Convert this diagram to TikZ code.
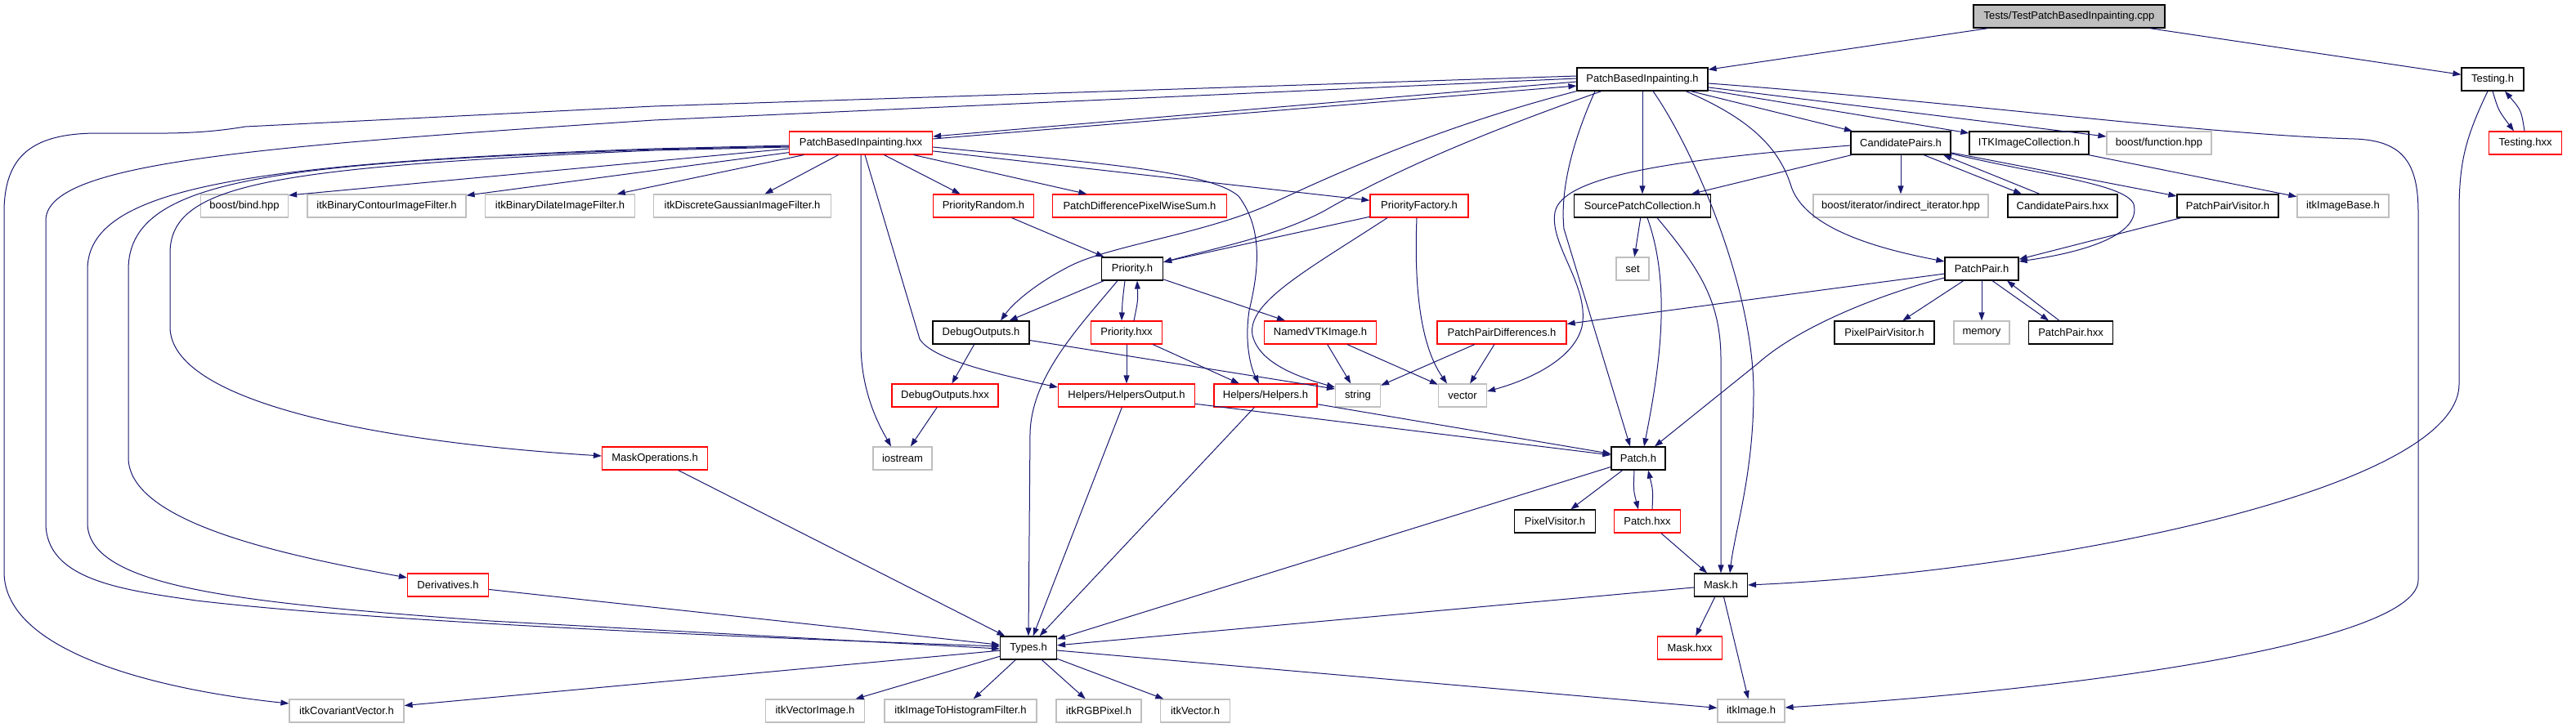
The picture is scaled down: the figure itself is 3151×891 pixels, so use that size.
\documentclass[tikz,border=0pt]{standalone}
\usepackage{fontspec}
\setmainfont{Liberation Sans}
\usetikzlibrary{arrows.meta,calc}
\definecolor{edgec}{HTML}{191970}
\definecolor{lgray}{HTML}{BFBFBF}
\definecolor{rootfill}{HTML}{BFBFBF}
\tikzset{
  box/.style={draw, line width=1.2pt, minimum height=28pt, minimum width=#1, inner sep=0pt, font=\fontsize{13}{15}\selectfont},
  bk/.style={box=#1, draw=black},
  rb/.style={box=#1, draw=red},
  gb/.style={box=#1, draw=lgray},
  rootb/.style={box=#1, draw=black, fill=rootfill},
  e/.style={draw=edgec, line width=1pt, -{Triangle[length=10pt,width=7pt]}}
}
\begin{document}
\begin{tikzpicture}[x=1pt,y=-1pt]
\fill[white] (0,0) rectangle (3151,891);
\useasboundingbox (0,0) rectangle (3151,891);
% nodes
\node[rootb=234] (root) at (2531,20) {Tests/TestPatchBasedInpainting.cpp};
\node[bk=160] (pbih) at (2009,97) {PatchBasedInpainting.h};
\node[bk=76] (testingh) at (3049,97) {Testing.h};
\node[rb=175] (pbihxx) at (1053,175) {PatchBasedInpainting.hxx};
\node[bk=122] (candh) at (2325,175) {CandidatePairs.h};
\node[bk=146] (itkcoll) at (2482,175) {ITKImageCollection.h};
\node[gb=128] (boostfunc) at (2641,175) {boost/function.hpp};
\node[rb=89] (testinghxx) at (3089,175) {Testing.hxx};
\node[gb=107] (boostbind) at (299,252) {boost/bind.hpp};
\node[gb=194] (itkbc) at (473,252) {itkBinaryContourImageFilter.h};
\node[gb=183] (itkbd) at (685,252) {itkBinaryDilateImageFilter.h};
\node[gb=217] (itkdg) at (908,252) {itkDiscreteGaussianImageFilter.h};
\node[rb=123] (prand) at (1203,252) {PriorityRandom.h};
\node[rb=213] (pdiff) at (1394,252) {PatchDifferencePixelWiseSum.h};
\node[rb=120] (pfact) at (1736,252) {PriorityFactory.h};
\node[bk=167] (spc) at (2009,252) {SourcePatchCollection.h};
\node[gb=214] (boostiter) at (2325,252) {boost/iterator/indirect\_iterator.hpp};
\node[bk=134] (candhxx) at (2523,252) {CandidatePairs.hxx};
\node[bk=124] (ppvis) at (2725,252) {PatchPairVisitor.h};
\node[gb=112] (itkib) at (2866,252) {itkImageBase.h};
\node[bk=75] (prio) at (1385,329) {Priority.h};
\node[gb=40] (set) at (1997,329) {set};
\node[bk=90] (pp) at (2424,329) {PatchPair.h};
\node[bk=118] (dbg) at (1200,407) {DebugOutputs.h};
\node[rb=87] (priohxx) at (1378,407) {Priority.hxx};
\node[rb=137] (nvtk) at (1615,407) {NamedVTKImage.h};
\node[rb=158] (ppdiff) at (1837,407) {PatchPairDifferences.h};
\node[bk=122] (pxpv) at (2305,407) {PixelPairVisitor.h};
\node[gb=68] (memory) at (2424,407) {memory};
\node[bk=103] (pphxx) at (2533,407) {PatchPair.hxx};
\node[rb=130] (dbghxx) at (1156,484) {DebugOutputs.hxx};
\node[rb=167] (hout) at (1378,484) {Helpers/HelpersOutput.h};
\node[rb=126] (helpers) at (1548,484) {Helpers/Helpers.h};
\node[gb=55] (string) at (1661,484) {string};
\node[gb=59] (vector) at (1789,484) {vector};
\node[rb=129] (maskops) at (801,561) {MaskOperations.h};
\node[gb=72] (iostream) at (1104,561) {iostream};
\node[bk=66] (patch) at (2004,561) {Patch.h};
\node[bk=99] (pxvis) at (1902,638) {PixelVisitor.h};
\node[rb=81] (patchhxx) at (2015,638) {Patch.hxx};
\node[rb=99] (deriv) at (548,716) {Derivatives.h};
\node[bk=65] (mask) at (2105,716) {Mask.h};
\node[bk=69] (types) at (1258,793) {Types.h};
\node[rb=79] (maskhxx) at (2067,793) {Mask.hxx};
\node[gb=140] (itkcov) at (424,870) {itkCovariantVector.h};
\node[gb=121] (itkvi) at (997,870) {itkVectorImage.h};
\node[gb=186] (itkhist) at (1175,870) {itkImageToHistogramFilter.h};
\node[gb=104] (itkrgb) at (1344,870) {itkRGBPixel.h};
\node[gb=85] (itkvec) at (1462,870) {itkVector.h};
\node[gb=82] (itkimg) at (2142,870) {itkImage.h};
% root edges
\draw[e] (root) -- (pbih);
\draw[e] (root) -- (testingh);
% Testing
\draw[e] (testingh.south) .. controls (3056,135) .. ($(testinghxx.north)+(-14,0)$);
\draw[e] ($(testinghxx.north)+(-1,0)$) .. controls (3084,135) .. ($(testingh.south)+(15,0)$);
\draw[e] ($(testingh.south)+(-6,0)$) .. controls (3015,170) and (3008,200) .. (3008,260) -- (3008,470) .. controls (3008,600) and (2500,700) .. (mask.east);
% PatchBasedInpainting.h <-> .hxx
\draw[e] ($(pbih.west)+(0,3)$) -- ($(pbihxx.east)+(0,-8)$);
\draw[e] ($(pbihxx.east)+(0,-5)$) -- ($(pbih.west)+(0,8)$);
% long left curves from pbih
\draw[e] ($(pbih.west)+(0,-4)$) -- (800,130) -- (300,155) .. controls (240,165) and (200,163) .. (120,163) .. controls (40,163) and (5,190) .. (5,260) -- (5,700) .. controls (5,800) and (200,845) .. ($(itkcov.west)+(0,-9)$);
\draw[e] ($(pbih.west)+(0,-1)$) -- (800,147) .. controls (300,180) and (56,200) .. (56,270) -- (56,640) .. controls (56,710) and (150,722) .. (240,735) .. controls (450,760) and (900,780) .. ($(types.west)+(0,-2)$);
% long left curves from pbihxx
\draw[e] ($(pbihxx.west)+(0,3)$) -- (800,182) .. controls (300,200) and (107,230) .. (107,330) -- (107,640) .. controls (107,720) and (300,738) .. (600,760) -- ($(types.west)+(0,1)$);
\draw[e] ($(pbihxx.west)+(0,4)$) -- (800,183) .. controls (330,200) and (157,220) .. (157,330) -- (157,560) .. controls (157,640) and (350,680) .. ($(deriv.west)+(0,-9)$);
\draw[e] ($(pbihxx.west)+(0,5)$) -- (800,184) .. controls (330,205) and (208,225) .. (208,310) -- (208,400) .. controls (208,490) and (450,540) .. ($(maskops.west)+(0,-3)$);
% straight from pbihxx
\draw[e] ($(pbihxx.west)+(0,7)$) -- ($(boostbind.east)+(0,-13)$);
\draw[e] (pbihxx) -- (itkbc);
\draw[e] (pbihxx) -- (itkbd);
\draw[e] (pbihxx) -- (itkdg);
\draw[e] (pbihxx) -- (prand);
\draw[e] (pbihxx) -- (pdiff);
\draw[e] (pbihxx) -- (pfact);
\draw[e] (pbihxx.south) -- (1053,420) .. controls (1053,480) and (1075,520) .. ($(iostream.north)+(-14,0)$);
\draw[e] ($(pbihxx.south)+(5,0)$) -- (1125,415) .. controls (1140,440) and (1220,458) .. ($(hout.west)+(0,-10)$);
\draw[e] ($(pbihxx.east)+(0,5)$) .. controls (1350,200) and (1480,210) .. (1515,240) .. controls (1545,280) and (1540,330) .. (1528,380) .. controls (1522,420) and (1530,450) .. ($(helpers.north)+(-8,0)$);
% pbih to priority stuff
\draw[e] (pbih.south west) .. controls (1780,150) and (1660,200) .. (1560,247) .. controls (1480,285) and (1360,300) .. (1310,325) .. controls (1270,345) and (1240,370) .. ($(dbg.north)+(24,0)$);
\draw[e] ($(pbih.south)+(-50,0)$) .. controls (1850,150) and (1720,200) .. (1620,258) .. controls (1560,290) and (1480,305) .. ($(prio.east)+(0,-8)$);
\draw[e] (pfact) -- (prio);
\draw[e] (prand) -- (prio);
\draw[e] (prio) -- (dbg);
\draw[e] ($(prio.south)+(-9,0)$) .. controls (1373,368) .. ($(priohxx.north)+(-6,0)$);
\draw[e] ($(priohxx.north)+(9,0)$) .. controls (1392,368) .. ($(prio.south)+(6,0)$);
\draw[e] (prio) -- (nvtk);
\draw[e] ($(prio.south)+(-18,0)$) .. controls (1320,400) and (1262,460) .. (1260,530) -- (types.north);
\draw[e] (priohxx) -- (hout);
\draw[e] (priohxx) -- (helpers);
\draw[e] (dbg) -- (dbghxx);
\draw[e] (dbg) -- ($(string.west)+(0,-8)$);
\draw[e] (dbghxx) -- (iostream);
\draw[e] ($(pfact.south)+(-39,0)$) .. controls (1600,330) and (1525,370) .. (1532,410) .. controls (1540,445) and (1590,462) .. ($(string.west)+(0,-10)$);
\draw[e] ($(pfact.south)+(-3,0)$) .. controls (1730,340) and (1735,420) .. ($(vector.north)+(-19,0)$);
\draw[e] (nvtk) -- (string);
\draw[e] (nvtk) -- (vector);
\draw[e] (ppdiff) -- (string);
\draw[e] (ppdiff) -- (vector);
% CandidatePairs
\draw[e] ($(candh.west)+(0,3)$) .. controls (2050,195) and (1910,215) .. (1902,260) .. controls (1895,300) and (1945,350) .. (1935,400) .. controls (1925,440) and (1870,465) .. ($(vector.east)+(0,-5)$);
\draw[e] (candh) -- (spc);
\draw[e] (candh) -- (boostiter);
\draw[e] ($(candh.south)+(28,0)$) -- ($(candhxx.north)+(-50,0)$);
\draw[e] ($(candhxx.north)+(-28,0)$) -- ($(candh.south)+(52,0)$);
\draw[e] (candh) -- (ppvis);
\draw[e] ($(candh.east)+(0,13)$) .. controls (2500,215) and (2600,225) .. (2610,250) .. controls (2620,290) and (2540,310) .. ($(pp.east)+(0,-9)$);
\draw[e] (ppvis) -- (pp);
% pbih others
\draw[e] ($(pbih.south)+(-58,0)$) .. controls (1925,170) and (1908,230) .. (1913,280) -- ($(patch.north)+(-10,0)$);
\draw[e] (pbih) -- (spc);
\draw[e] ($(pbih.south)+(13,0)$) .. controls (2070,180) and (2145,350) .. (2145,480) .. controls (2145,580) and (2122,650) .. ($(mask.north)+(11,0)$);
\draw[e] (pbih) -- (candh);
\draw[e] (pbih) -- (itkcoll);
\draw[e] (pbih) -- (boostfunc);
\draw[e] ($(pbih.east)+(0,5)$) .. controls (2400,125) and (2700,165) .. (2880,170) .. controls (2940,172) and (2958,200) .. (2958,260) -- (2958,710) .. controls (2958,780) and (2600,840) .. ($(itkimg.east)+(0,-4)$);
\draw[e] ($(pbih.south)+(53,0)$) .. controls (2140,145) and (2175,180) .. (2190,225) .. controls (2205,280) and (2300,305) .. ($(pp.west)+(0,-9)$);
\draw[e] (itkcoll) -- (itkib);
% PatchPair
\draw[e] (pp) -- (pxpv);
\draw[e] (pp) -- (memory);
\draw[e] ($(pp.south)+(13,0)$) -- ($(pphxx.north)+(-27,0)$);
\draw[e] ($(pphxx.north)+(-14,0)$) -- ($(pp.south)+(31,0)$);
\draw[e] (pp) -- (ppdiff);
\draw[e] ($(pp.west)+(0,11)$) .. controls (2300,360) and (2200,400) .. (2150,445) -- ($(patch.north)+(20,0)$);
% SourcePatchCollection
\draw[e] (spc) -- (set);
\draw[e] ($(spc.south)+(6,0)$) .. controls (2045,350) and (2030,450) .. ($(patch.north)+(7,0)$);
\draw[e] ($(spc.south)+(18,0)$) .. controls (2080,330) and (2105,370) .. (2105,440) -- (mask.north);
% Patch
\draw[e] (patch) -- (pxvis);
\draw[e] ($(patch.south)+(-5,0)$) .. controls (1998,600) .. ($(patchhxx.north)+(-11,0)$);
\draw[e] ($(patchhxx.north)+(6,0)$) .. controls (2022,600) .. ($(patch.south)+(12,0)$);
\draw[e] (patch) -- (types);
\draw[e] (patchhxx) -- (mask);
% Mask
\draw[e] (mask) -- (maskhxx);
\draw[e] (mask) -- (itkimg);
\draw[e] (mask) -- (types);
% Helpers
\draw[e] (hout) -- (patch);
\draw[e] (helpers) -- (patch);
\draw[e] (hout) -- (types);
\draw[e] (helpers) -- (types);
\draw[e] (maskops) -- (types);
\draw[e] (deriv) -- (types);
% Types
\draw[e] (types) -- (itkcov);
\draw[e] (types) -- (itkvi);
\draw[e] (types) -- (itkhist);
\draw[e] (types) -- (itkrgb);
\draw[e] (types) -- (itkvec);
\draw[e] (types) -- (itkimg);
\end{tikzpicture}
\end{document}
